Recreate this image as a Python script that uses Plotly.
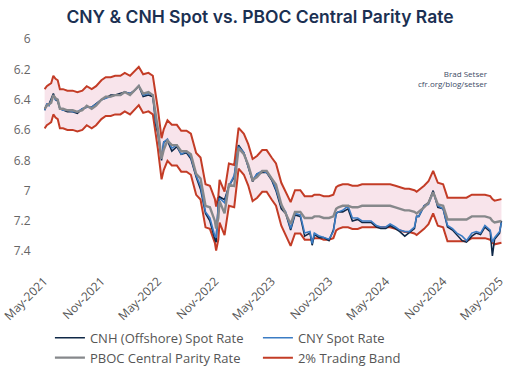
import plotly.graph_objects as go

# ---- data ----
dates = [
    "2021-05-03", "2021-05-10", "2021-05-17", "2021-05-24", "2021-05-31", "2021-06-07", "2021-06-14", "2021-06-21",
    "2021-07-01", "2021-07-15", "2021-08-01", "2021-08-16", "2021-09-01", "2021-09-15", "2021-10-01", "2021-10-15",
    "2021-11-01", "2021-11-15", "2021-12-01", "2021-12-15", "2022-01-01", "2022-01-15", "2022-02-01", "2022-02-15",
    "2022-03-01", "2022-03-15", "2022-04-01", "2022-04-15", "2022-04-25", "2022-05-01", "2022-05-13", "2022-05-20",
    "2022-06-01", "2022-06-15", "2022-07-01", "2022-07-15", "2022-08-01", "2022-08-15", "2022-09-01", "2022-09-15",
    "2022-10-01", "2022-10-15", "2022-10-31", "2022-11-04", "2022-11-11", "2022-11-15", "2022-12-01", "2022-12-15",
    "2023-01-01", "2023-01-15", "2023-02-01", "2023-02-15", "2023-03-01", "2023-03-15", "2023-04-01", "2023-04-15",
    "2023-05-01", "2023-05-15", "2023-06-01", "2023-06-15", "2023-07-01", "2023-07-15", "2023-08-01", "2023-08-15",
    "2023-09-01", "2023-09-08", "2023-09-15", "2023-10-01", "2023-10-15", "2023-11-01", "2023-11-15", "2023-11-24",
    "2023-12-01", "2023-12-15", "2024-01-01", "2024-01-15", "2024-02-01", "2024-02-15", "2024-03-01", "2024-03-15",
    "2024-04-01", "2024-04-15", "2024-05-01", "2024-05-15", "2024-06-01", "2024-06-15", "2024-07-01", "2024-07-15",
    "2024-08-01", "2024-08-08", "2024-08-15", "2024-09-01", "2024-09-15", "2024-09-30", "2024-10-15", "2024-11-01",
    "2024-11-15", "2024-12-01", "2024-12-15", "2025-01-01", "2025-01-15", "2025-02-01", "2025-02-15", "2025-03-01",
    "2025-03-15", "2025-04-01", "2025-04-08", "2025-04-15", "2025-05-01", "2025-05-07",
]

pboc_fix = [
    6.46, 6.44, 6.43, 6.42, 6.37, 6.39, 6.40, 6.46,
    6.46, 6.47, 6.47, 6.48, 6.47, 6.44, 6.46, 6.44,
    6.40, 6.38, 6.38, 6.37, 6.37, 6.35, 6.37, 6.34,
    6.31, 6.36, 6.35, 6.37, 6.49, 6.59, 6.79, 6.73,
    6.67, 6.70, 6.70, 6.74, 6.74, 6.76, 6.89, 6.92,
    7.10, 7.11, 7.20, 7.25, 7.18, 7.07, 7.15, 6.96,
    6.97, 6.72, 6.76, 6.83, 6.93, 6.91, 6.87, 6.87,
    6.92, 6.96, 7.09, 7.15, 7.22, 7.14, 7.14, 7.18,
    7.18, 7.18, 7.17, 7.17, 7.18, 7.18, 7.17, 7.12,
    7.11, 7.10, 7.10, 7.11, 7.11, 7.10, 7.10, 7.10,
    7.10, 7.10, 7.10, 7.10, 7.11, 7.12, 7.13, 7.13,
    7.14, 7.15, 7.14, 7.11, 7.08, 7.01, 7.09, 7.10,
    7.19, 7.19, 7.19, 7.19, 7.19, 7.17, 7.17, 7.17,
    7.17, 7.18, 7.20, 7.21, 7.20, 7.20,
]

cny_spot = [
    6.47, 6.43, 6.44, 6.41, 6.37, 6.40, 6.40, 6.46,
    6.47, 6.47, 6.48, 6.48, 6.46, 6.45, 6.45, 6.43,
    6.40, 6.39, 6.38, 6.37, 6.37, 6.35, 6.36, 6.34,
    6.31, 6.37, 6.36, 6.37, 6.55, 6.60, 6.79, 6.68,
    6.66, 6.72, 6.70, 6.76, 6.74, 6.78, 6.90, 6.97,
    7.14, 7.18, 7.30, 7.31, 7.10, 7.05, 7.08, 6.97,
    6.90, 6.71, 6.75, 6.84, 6.93, 6.89, 6.87, 6.88,
    6.92, 6.99, 7.10, 7.14, 7.25, 7.15, 7.16, 7.28,
    7.27, 7.35, 7.28, 7.30, 7.31, 7.32, 7.27, 7.15,
    7.14, 7.13, 7.10, 7.18, 7.18, 7.20, 7.20, 7.20,
    7.23, 7.24, 7.24, 7.22, 7.24, 7.26, 7.27, 7.27,
    7.24, 7.17, 7.17, 7.10, 7.09, 7.01, 7.10, 7.12,
    7.23, 7.25, 7.28, 7.30, 7.33, 7.28, 7.27, 7.28,
    7.23, 7.26, 7.34, 7.31, 7.27, 7.21,
]

cnh_spot = [
    6.47, 6.43, 6.43, 6.40, 6.36, 6.40, 6.41, 6.46,
    6.47, 6.48, 6.48, 6.49, 6.46, 6.45, 6.45, 6.43,
    6.40, 6.39, 6.37, 6.37, 6.36, 6.35, 6.36, 6.34,
    6.31, 6.38, 6.37, 6.38, 6.57, 6.62, 6.80, 6.68,
    6.67, 6.74, 6.71, 6.76, 6.75, 6.79, 6.91, 6.99,
    7.15, 7.20, 7.32, 7.34, 7.08, 7.04, 7.06, 6.97,
    6.91, 6.70, 6.75, 6.85, 6.94, 6.89, 6.88, 6.88,
    6.93, 7.00, 7.12, 7.15, 7.26, 7.16, 7.17, 7.30,
    7.28, 7.36, 7.29, 7.31, 7.31, 7.33, 7.26, 7.15,
    7.14, 7.14, 7.12, 7.20, 7.19, 7.21, 7.21, 7.21,
    7.24, 7.25, 7.25, 7.23, 7.25, 7.27, 7.30, 7.28,
    7.25, 7.17, 7.17, 7.10, 7.08, 7.00, 7.11, 7.12,
    7.24, 7.26, 7.29, 7.33, 7.34, 7.30, 7.28, 7.29,
    7.24, 7.27, 7.43, 7.32, 7.28, 7.20,
]

BAND_PCT = 0.02  # PBOC allows spot to trade 2% either side of the central parity
band_strong = [v * (1 - BAND_PCT) for v in pboc_fix]
band_weak = [v * (1 + BAND_PCT) for v in pboc_fix]

y_ticks = [6, 6.2, 6.4, 6.6, 6.8, 7, 7.2, 7.4]
y_tick_text = ["6", "6.2", "6.4", "6.6", "6.8", "7", "7.2", "7.4"]

# ---- styles ----
NAVY = "#0f2847"
BLUE = "#3b7cc4"
GRAY = "#86888b"
RED = "#c33c26"
PINK = "#f8e4eb"
FONT = "Open Sans"

fig = go.Figure()

# band fill (no legend)
fig.add_trace(go.Scatter(x=dates, y=band_strong, mode="lines", line=dict(color=RED, width=2),
                         showlegend=False, hoverinfo="skip"))
fig.add_trace(go.Scatter(x=dates, y=band_weak, mode="lines", line=dict(color=RED, width=2),
                         fill="tonexty", fillcolor=PINK, showlegend=False, hoverinfo="skip"))

fig.add_trace(go.Scatter(x=dates, y=cnh_spot, mode="lines", name="CNH (Offshore) Spot Rate",
                         line=dict(color=NAVY, width=1.6)))
fig.add_trace(go.Scatter(x=dates, y=cny_spot, mode="lines", name="CNY Spot Rate",
                         line=dict(color=BLUE, width=1.6)))
fig.add_trace(go.Scatter(x=dates, y=pboc_fix, mode="lines", name="PBOC Central Parity Rate",
                         line=dict(color=GRAY, width=2.4)))
# legend entry for band
fig.add_trace(go.Scatter(x=[None], y=[None], mode="lines", name="2% Trading Band",
                         line=dict(color=RED, width=2)))

fig.update_layout(
    width=520, height=378,
    margin=dict(l=44, r=17, t=39, b=107),
    paper_bgcolor="white", plot_bgcolor="white",
    font=dict(family=FONT, color="#555555"),
    title=dict(text="CNY & CNH Spot vs. PBOC Central Parity Rate",
               x=0.5, xanchor="center", y=0.955, yanchor="middle",
               font=dict(family="Inter", size=17.5, color="#1b3052", weight=600)),
    showlegend=True,
    legend=dict(orientation="h", xref="container", yref="container",
                x=0.096, y=0.146, xanchor="left", yanchor="top",
                font=dict(size=13, color="#555555"), traceorder="normal",
                entrywidth=163, entrywidthmode="pixels",
                bgcolor="rgba(0,0,0,0)", tracegroupgap=0),
    annotations=[dict(text="Brad Setser<br>cfr.org/blog/setser", xref="paper", yref="paper",
                      x=0.972, y=0.884, xanchor="right", yanchor="top", align="right",
                      showarrow=False, font=dict(size=8, color="#3d4b66"))],
)

fig.update_xaxes(
    type="date", range=["2021-05-01", "2025-05-12"], automargin=False,
    tick0="2021-05-01", dtick="M6", tickformat="%b-%Y", tickangle=-45,
    showgrid=False, zeroline=False, showline=False, ticks="",
    tickfont=dict(size=12, color="#555555"),
)
fig.update_yaxes(
    range=[7.53, 6.0], tickvals=y_ticks, ticktext=y_tick_text, automargin=False,
    showgrid=False, zeroline=False, showline=False,
    ticks="outside", ticklen=10, tickcolor="rgba(0,0,0,0)",
    tickfont=dict(size=12, color="#666666"),
)

# remove the browser's default 8px body margin so the 520x378 figure fills the window exactly
fig.write_html("out.html", config={"displayModeBar": False},
               post_script="document.body.style.margin='0';")
